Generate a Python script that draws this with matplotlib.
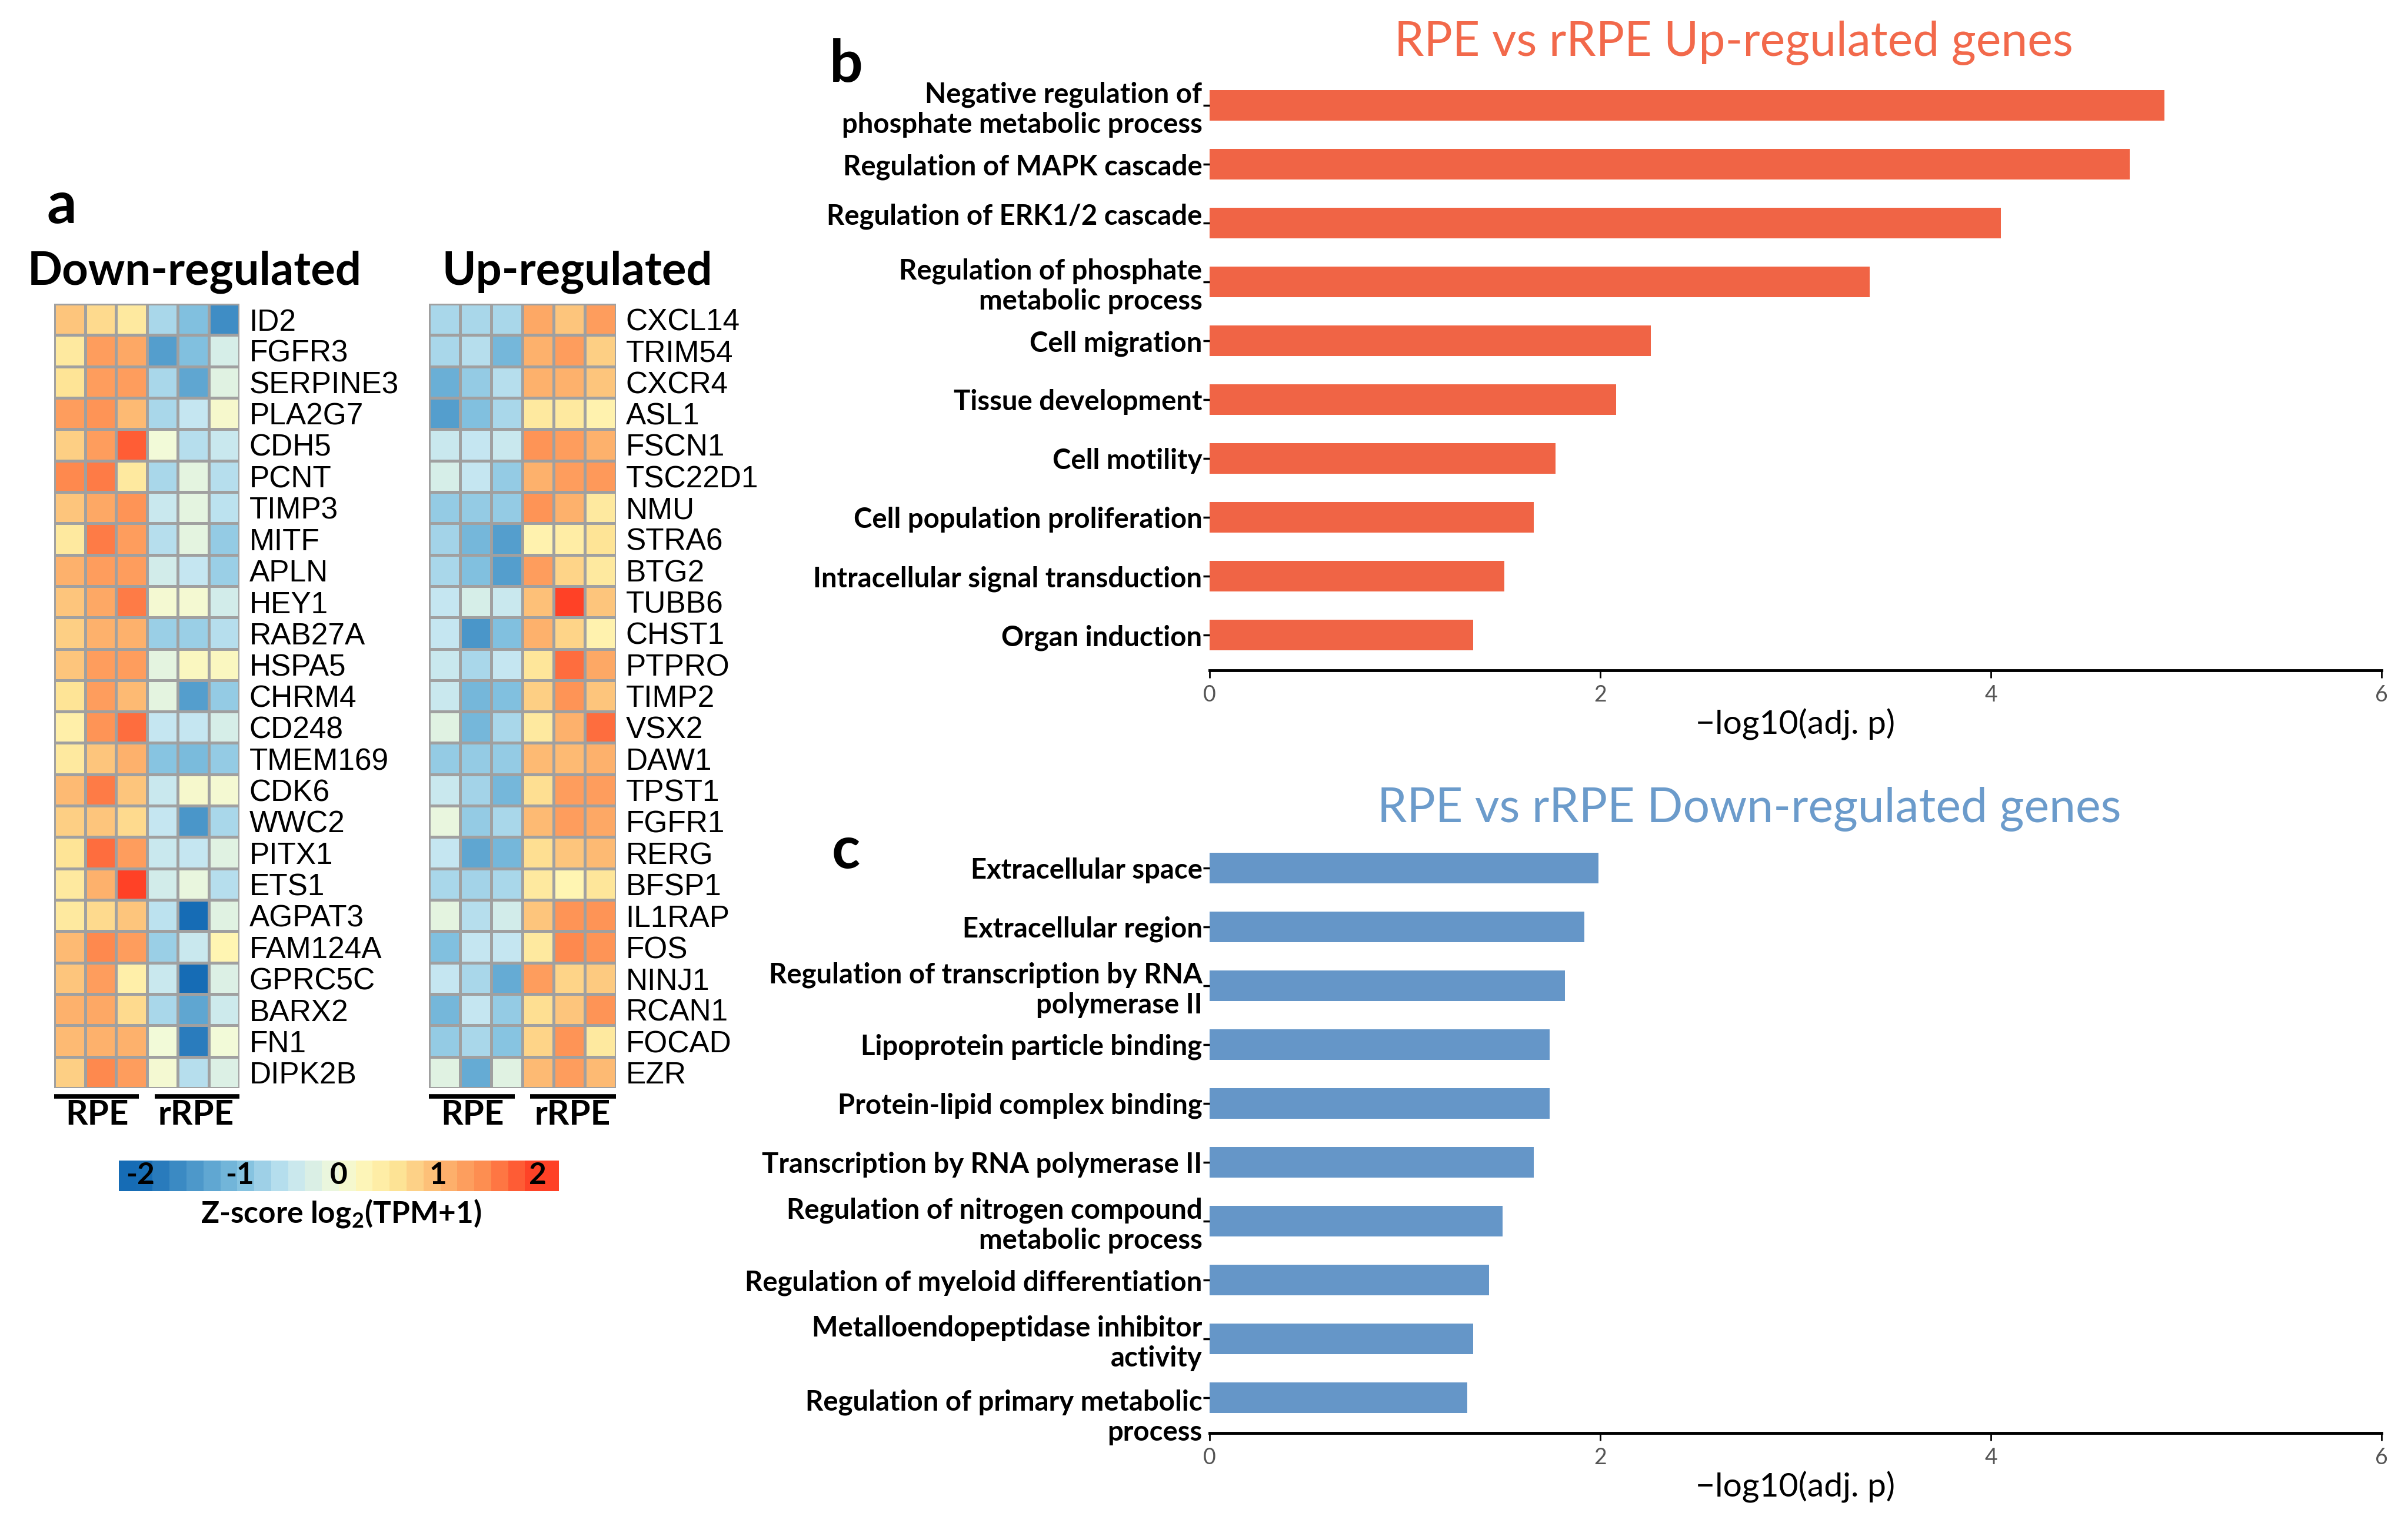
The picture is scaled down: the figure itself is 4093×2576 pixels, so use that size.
import numpy as np
import matplotlib
matplotlib.use("Agg")
import matplotlib.pyplot as plt
import matplotlib.transforms as mtrans
from matplotlib.colors import LinearSegmentedColormap

#-----------------------Data-----------------------#
down_genes = ["ID2", "FGFR3", "SERPINE3", "PLA2G7", "CDH5", "PCNT", "TIMP3", "MITF",
              "APLN", "HEY1", "RAB27A", "HSPA5", "CHRM4", "CD248", "TMEM169", "CDK6",
              "WWC2", "PITX1", "ETS1", "AGPAT3", "FAM124A", "GPRC5C", "BARX2", "FN1", "DIPK2B"]
# columns: RPE x3, rRPE x3
down_z = [
    [0.9, 0.7, 0.5, -0.7, -1.0, -1.6],
    [0.5, 1.3, 1.2, -1.4, -1.0, -0.3],
    [0.6, 1.3, 1.3, -0.7, -1.3, -0.2],
    [1.3, 1.4, 1.0, -0.7, -0.5, 0.1],
    [0.8, 1.3, 1.8, 0.0, -0.6, -0.45],
    [1.5, 1.6, 0.5, -0.7, -0.15, -0.6],
    [0.9, 1.2, 1.4, -0.45, -0.15, -0.55],
    [0.5, 1.6, 1.3, -0.6, -0.15, -0.85],
    [1.1, 1.3, 1.3, -0.35, -0.5, -0.8],
    [0.9, 1.2, 1.6, 0.05, 0.05, -0.35],
    [0.8, 1.1, 1.1, -0.8, -0.8, -0.6],
    [0.9, 1.3, 1.3, -0.15, 0.2, 0.2],
    [0.6, 1.3, 1.0, -0.15, -1.4, -0.85],
    [0.4, 1.4, 1.7, -0.5, -0.5, -0.3],
    [0.5, 0.9, 1.1, -0.95, -1.05, -0.85],
    [1.0, 1.6, 0.9, -0.45, 0.1, 0.05],
    [0.8, 0.9, 0.7, -0.5, -1.5, -0.7],
    [0.6, 1.7, 1.3, -0.45, -0.5, -0.2],
    [0.5, 1.1, 2.0, -0.35, -0.1, -0.6],
    [0.5, 0.7, 0.9, -0.55, -2.0, -0.2],
    [1.0, 1.5, 1.3, -0.8, -0.45, 0.3],
    [0.9, 1.3, 0.4, -0.45, -2.0, -0.25],
    [1.1, 1.2, 0.7, -0.7, -1.3, -0.4],
    [1.0, 1.1, 1.1, 0.0, -1.8, 0.0],
    [0.8, 1.5, 1.3, 0.05, -0.6, -0.25],
]

up_genes = ["CXCL14", "TRIM54", "CXCR4", "ASL1", "FSCN1", "TSC22D1", "NMU", "STRA6",
            "BTG2", "TUBB6", "CHST1", "PTPRO", "TIMP2", "VSX2", "DAW1", "TPST1", "FGFR1",
            "RERG", "BFSP1", "IL1RAP", "FOS", "NINJ1", "RCAN1", "FOCAD", "EZR"]
up_z = [
    [-0.7, -0.7, -0.7, 1.2, 0.9, 1.3],
    [-0.7, -0.6, -1.1, 1.1, 1.3, 0.8],
    [-1.2, -0.85, -0.6, 1.1, 1.1, 0.9],
    [-1.4, -1.0, -0.7, 0.5, 0.5, 0.35],
    [-0.45, -0.5, -0.45, 1.4, 1.3, 1.1],
    [-0.3, -0.5, -0.85, 1.1, 1.3, 1.35],
    [-0.85, -0.85, -0.85, 1.4, 1.1, 0.5],
    [-0.75, -1.1, -1.4, 0.35, 0.45, 0.6],
    [-0.7, -1.0, -1.4, 1.3, 0.75, 0.5],
    [-0.5, -0.3, -0.45, 0.95, 2.0, 0.9],
    [-0.5, -1.5, -1.0, 1.1, 0.75, 0.35],
    [-0.45, -0.7, -0.5, 0.55, 1.7, 1.2],
    [-0.45, -1.1, -1.0, 0.8, 1.4, 0.9],
    [-0.2, -1.1, -0.7, 0.5, 1.1, 1.7],
    [-0.85, -0.85, -0.85, 1.0, 1.0, 1.1],
    [-0.45, -0.75, -1.1, 0.65, 1.3, 1.3],
    [-0.1, -0.85, -0.7, 1.0, 1.3, 1.2],
    [-0.5, -1.3, -1.1, 0.65, 0.9, 1.0],
    [-0.7, -0.75, -0.7, 0.5, 0.3, 0.55],
    [-0.15, -0.6, -0.35, 0.9, 1.4, 1.4],
    [-1.0, -0.5, -0.5, 0.5, 1.5, 1.4],
    [-0.5, -0.7, -1.25, 1.3, 0.75, 0.85],
    [-1.1, -0.5, -0.85, 0.65, 0.9, 1.4],
    [-0.85, -0.7, -0.95, 0.75, 1.4, 0.5],
    [-0.2, -1.25, -0.2, 1.0, 1.3, 1.0],
]

up_terms = ["Negative regulation of\nphosphate metabolic process",
            "Regulation of MAPK cascade",
            "Regulation of ERK1/2 cascade",
            "Regulation of phosphate\nmetabolic process",
            "Cell migration",
            "Tissue development",
            "Cell motility",
            "Cell population proliferation",
            "Intracellular signal transduction",
            "Organ induction"]
up_logp = [4.89, 4.71, 4.05, 3.38, 2.26, 2.08, 1.77, 1.66, 1.51, 1.35]

down_terms = ["Extracellular space",
              "Extracellular region",
              "Regulation of transcription by RNA\npolymerase II",
              "Lipoprotein particle binding",
              "Protein-lipid complex binding",
              "Transcription by RNA polymerase II",
              "Regulation of nitrogen compound\nmetabolic process",
              "Regulation of myeloid differentiation",
              "Metalloendopeptidase inhibitor\nactivity",
              "\nRegulation of primary metabolic\nprocess"]
down_logp = [1.99, 1.92, 1.82, 1.74, 1.74, 1.66, 1.50, 1.43, 1.35, 1.32]

x_ticks = [0, 2, 4, 6]
cbar_ticks = [-2, -1, 0, 1, 2]

#-----------------------Style-----------------------#
plt.rcParams['font.family'] = ['Lato', 'DejaVu Sans']
plt.rcParams['mathtext.fontset'] = 'custom'
plt.rcParams['mathtext.rm'] = 'Lato:bold'
plt.rcParams['mathtext.bf'] = 'Lato:bold'
plt.rcParams['mathtext.it'] = 'Lato:bold'

up_col = '#f06445'
down_col = '#6596c8'

z_nodes = [-2, -1.5, -1, -0.5, 0, 0.3, 0.6, 1.0, 1.5, 2]
z_colors = ['#166cb5', '#4a96c9', '#80c0df', '#c4e6f1', '#f2fad9',
            '#fff5b3', '#fee496', '#fdbb74', '#fe8b4f', '#ff4126']
cmap = LinearSegmentedColormap.from_list(
    "zs", [((v + 2) / 4, c) for v, c in zip(z_nodes, z_colors)])

W, H = 4093, 2576
fig = plt.figure(figsize=(W / 100, H / 100), dpi=100)


def px_axes(x0, y0, x1, y1):
    return fig.add_axes([x0 / W, 1 - y1 / H, (x1 - x0) / W, (y1 - y0) / H])


def fig_text(x, y, s, **kw):
    return fig.text(x / W, 1 - y / H, s, **kw)


#-----------------------Heatmaps-----------------------#
def heatmap(ax, z, genes):
    ax.pcolormesh(np.array(z), cmap=cmap, vmin=-2, vmax=2,
                  edgecolors='#a0a0a0', linewidth=2.2)
    ax.set_xlim(0, 6)
    ax.set_ylim(len(genes), 0)
    ax.set_xticks([])
    ax.yaxis.tick_right()
    ax.set_yticks(np.arange(len(genes)) + 0.5)
    ax.set_yticklabels(genes, fontsize=37, family=['Liberation Sans', 'DejaVu Sans'])
    ax.tick_params(axis='y', length=0, pad=12)
    for s in ax.spines.values():
        s.set_visible(False)
    # group bars
    ax.plot([0.0, 2.75], [25.27, 25.27], color='black', lw=5.5, clip_on=False,
            solid_capstyle='butt')
    ax.plot([3.25, 6.0], [25.27, 25.27], color='black', lw=5.5, clip_on=False,
            solid_capstyle='butt')
    ax.text(1.4, 25.85, "RPE", fontsize=42, fontweight='bold', ha='center', va='center')
    ax.text(4.6, 25.85, "rRPE", fontsize=42, fontweight='bold', ha='center', va='center')


ax_d = px_axes(92, 516, 407, 1849)
heatmap(ax_d, down_z, down_genes)
ax_u = px_axes(729, 516, 1047, 1849)
heatmap(ax_u, up_z, up_genes)

fig_text(105, 350, "a", fontsize=72, fontweight='bold', ha='center', va='center')
fig_text(331, 462, "Down-regulated", fontsize=56, fontweight='bold', ha='center', va='center')
fig_text(981, 462, "Up-regulated", fontsize=56, fontweight='bold', ha='center', va='center')

# colour key
ax_cb = px_axes(202, 1972, 950, 2024)
grad = np.linspace(-2.15, 2.15, 26).reshape(1, -1)
ax_cb.imshow(grad, cmap=cmap, vmin=-2, vmax=2, aspect='auto',
             extent=[-2.15, 2.15, 0, 1])
for t in cbar_ticks:
    ax_cb.text(t * 0.97, 0.5, str(t), fontsize=37, fontweight='bold',
               ha='center', va='center')
ax_cb.set_axis_off()
fig_text(580, 2062, r"Z-score log$_{2}$(TPM+1)", fontsize=37, fontweight='bold',
         ha='center', va='center')


#-----------------------Bar charts-----------------------#
def go_bars(ax, terms, vals, color):
    y = np.arange(len(terms))
    ax.barh(y, vals, height=0.52, color=color)
    ax.set_ylim(9.6, -0.6)
    ax.set_xlim(0, 6)
    ax.set_yticks(y)
    ax.set_yticklabels(terms, fontsize=34, fontweight='bold', linespacing=1.2)
    ax.set_xticks(x_ticks)
    ax.set_xticklabels([str(v) for v in x_ticks], fontsize=27, color='#555555')
    for s in ['top', 'right', 'left']:
        ax.spines[s].set_visible(False)
    ax.spines['bottom'].set_linewidth(3.5)
    ax.tick_params(axis='y', length=8, width=2.5, pad=1)
    ax.tick_params(axis='x', length=9, width=2, pad=8)
    ax.set_xlabel("\u2212log10(adj. p)", fontsize=41, labelpad=4)


ax_b = px_axes(2056, 119, 4048, 1139)
go_bars(ax_b, up_terms, up_logp, up_col)
ax_c = px_axes(2056, 1415, 4048, 2435)
go_bars(ax_c, down_terms, down_logp, down_col)

# the ERK1/2 label sits a little above its tick in the original
erk = ax_b.get_yticklabels()[2]
erk.set_transform(erk.get_transform() + mtrans.ScaledTranslation(0, 0.15, fig.dpi_scale_trans))

fig_text(1438, 110, "b", fontsize=72, fontweight='bold', ha='center', va='center')
fig_text(1438, 1446, "c", fontsize=72, fontweight='bold', ha='center', va='center')
fig_text(2947, 73, "RPE vs rRPE Up-regulated genes", fontsize=58, color='#f2694b',
         ha='center', va='center')
fig_text(2973, 1375, "RPE vs rRPE Down-regulated genes", fontsize=58, color='#6b9bcb',
         ha='center', va='center')

fig.savefig("out.png", dpi=100, facecolor='white')
